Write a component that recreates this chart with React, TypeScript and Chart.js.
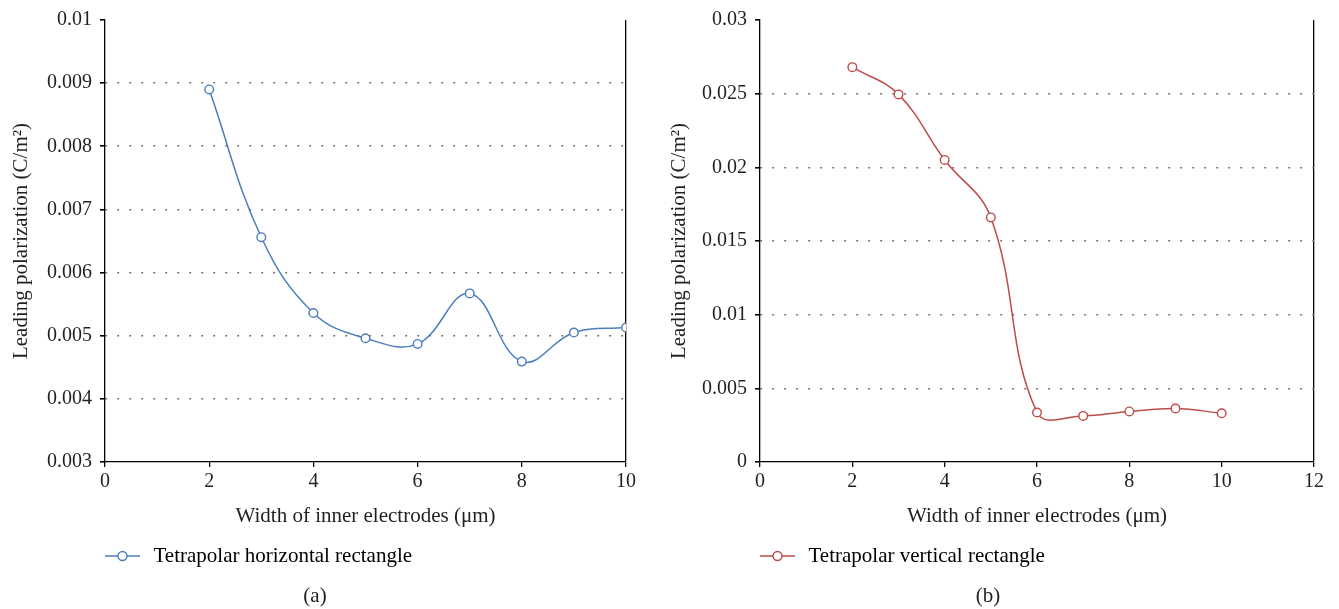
import React, { useEffect, useRef } from "react";
import { Chart, registerables } from "chart.js";

Chart.register(...registerables);

// ---- data ----
const widthsA = [2, 3, 4, 5, 6, 7, 8, 9, 10];
const polarizationA = [0.0089, 0.00656, 0.00536, 0.00496, 0.00487, 0.00567, 0.00459, 0.00505, 0.00513];
const widthsB = [2, 3, 4, 5, 6, 7, 8, 9, 10];
const polarizationB = [0.0268, 0.02495, 0.0205, 0.0166, 0.00336, 0.00313, 0.00343, 0.00363, 0.00331];

const seriesLabelA = "Tetrapolar horizontal rectangle";
const seriesLabelB = "Tetrapolar vertical rectangle";
const captionA = "(a)";
const captionB = "(b)";
const xAxisTitle = "Width of inner electrodes (μm)";
const yAxisTitle = "Leading polarization (C/m²)";

const yRangeA = { min: 0.003, max: 0.01, step: 0.001 };
const yRangeB = { min: 0, max: 0.03, step: 0.005 };
const xRangeA = { min: 0, max: 10, step: 2 };
const xRangeB = { min: 0, max: 12, step: 2 };

const colorA = "#4a7ebb";
const colorB = "#be4b48";
const textColor = "#231f20";
const FONT = "'Liberation Serif', 'Times New Roman', serif";

function makeMarker(color: string) {
  const c = document.createElement("canvas");
  c.width = 38;
  c.height = 12;
  const g = c.getContext("2d")!;
  g.strokeStyle = color;
  g.lineWidth = 1.4;
  g.beginPath();
  g.moveTo(0, 6);
  g.lineTo(35, 6);
  g.stroke();
  g.beginPath();
  g.arc(17.5, 6, 4.5, 0, Math.PI * 2);
  g.fillStyle = "#ffffff";
  g.fill();
  g.stroke();
  return c;
}

type PanelProps = {
  left: number;
  width: number;
  padL: number;
  padR: number;
  yWidth: number;
  xs: number[];
  ys: number[];
  color: string;
  label: string;
  caption: string;
  xr: { min: number; max: number; step: number };
  yr: { min: number; max: number; step: number };
};

function Panel(p: PanelProps) {
  const ref = useRef<HTMLCanvasElement | null>(null);
  useEffect(() => {
    if (!ref.current) return;
    Chart.defaults.font.family = FONT;
    const marker = makeMarker(p.color);
    const chart = new Chart(ref.current, {
      type: "line",
      data: {
        datasets: [
          {
            label: p.label,
            data: p.xs.map((x, i) => ({ x, y: p.ys[i] })),
            borderColor: p.color,
            borderWidth: 1.5,
            backgroundColor: "#ffffff",
            pointBackgroundColor: "#ffffff",
            pointBorderColor: p.color,
            pointBorderWidth: 1.4,
            pointRadius: 4.3,
            tension: 0.4,
            fill: false,
          },
        ],
      },
      options: {
        animation: false,
        responsive: false,
        maintainAspectRatio: false,
        layout: { padding: { left: p.padL, right: p.padR, top: 20, bottom: 0 } },
        plugins: {
          tooltip: { enabled: false },
          legend: {
            position: "bottom",
            align: "start",
            fullSize: false,
            labels: {
              usePointStyle: true,
              pointStyleWidth: 38,
              padding: 0,
              color: textColor,
              font: { size: 21, family: FONT },
              generateLabels: () => [
                {
                  text: p.label,
                  pointStyle: marker as any,
                  fillStyle: "#ffffff",
                  strokeStyle: p.color,
                  lineWidth: 0,
                  hidden: false,
                  datasetIndex: 0,
                } as any,
              ],
            },
          },
          title: {
            display: true,
            position: "bottom",
            text: p.caption,
            color: textColor,
            font: { size: 21, weight: "normal", family: FONT },
            padding: { top: 7.3, bottom: 0 },
          },
        },
        scales: {
          x: {
            type: "linear",
            min: p.xr.min,
            max: p.xr.max,
            ticks: {
              stepSize: p.xr.step,
              color: textColor,
              font: { size: 20, family: FONT },
              padding: 3,
              maxRotation: 0,
            },
            grid: {
              color: (c: any) => (c.index === c.scale.ticks.length - 1 ? "#000000" : "rgba(0,0,0,0)"),
              tickColor: "#000000",
              tickLength: 5,
              lineWidth: 1.3,
              drawOnChartArea: true,
            },
            border: { color: "#000000", width: 1.3 },
            title: {
              display: true,
              text: xAxisTitle,
              color: textColor,
              font: { size: 21, family: FONT },
              padding: { top: 0, bottom: 16 },
            },
            afterFit: (s: any) => {
              s.height = 83.5;
            },
          },
          y: {
            min: p.yr.min,
            max: p.yr.max,
            ticks: {
              stepSize: p.yr.step,
              color: textColor,
              font: { size: 20, family: FONT },
              padding: 8,
              callback: (v: any) => String(parseFloat(Number(v).toFixed(4))),
            },
            grid: {
              color: (c: any) =>
                c.index === 0 || c.index === c.scale.ticks.length - 1 ? "rgba(0,0,0,0)" : "#6a6a6a",
              tickColor: "#000000",
              tickLength: 5,
              lineWidth: 1.6,
            },
            border: { color: "#000000", width: 1.3, dash: [1.8, 10.2] },
            title: {
              display: true,
              text: yAxisTitle,
              color: textColor,
              font: { size: 21, family: FONT },
              padding: { top: 5, bottom: 0 },
            },
            afterFit: (s: any) => {
              s.width = p.yWidth;
            },
          },
        },
      } as any,
    });
    return () => chart.destroy();
  }, []);
  return (
    <canvas
      ref={ref}
      width={p.width}
      height={609}
      style={{ position: "absolute", left: p.left, top: 0, width: p.width, height: 609 }}
    />
  );
}

export default function App() {
  return (
    <div style={{ position: "absolute", left: 0, top: 0, width: 1339, height: 609, background: "#ffffff" }}>
      <Panel
        left={0}
        width={660}
        padL={4}
        padR={34}
        yWidth={101}
        xs={widthsA}
        ys={polarizationA}
        color={colorA}
        label={seriesLabelA}
        caption={captionA}
        xr={xRangeA}
        yr={yRangeA}
      />
      <Panel
        left={660}
        width={679}
        padL={2}
        padR={25}
        yWidth={98}
        xs={widthsB}
        ys={polarizationB}
        color={colorB}
        label={seriesLabelB}
        caption={captionB}
        xr={xRangeB}
        yr={yRangeB}
      />
    </div>
  );
}
